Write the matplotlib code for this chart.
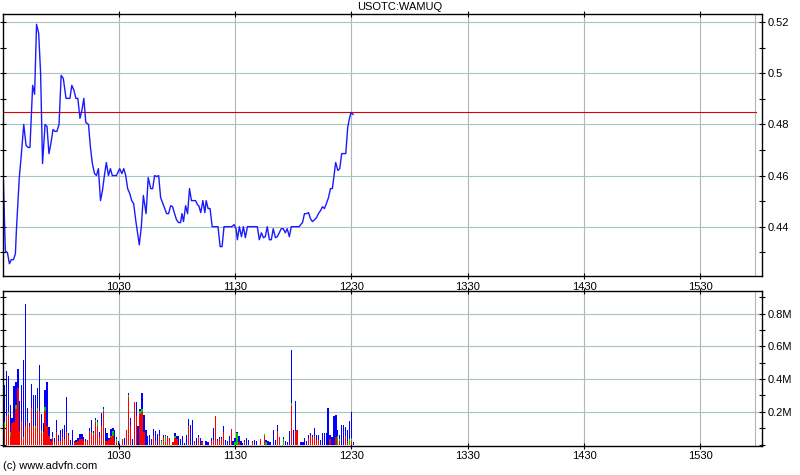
import numpy as np
import matplotlib
matplotlib.use('Agg')
import matplotlib.pyplot as plt
from matplotlib.ticker import MultipleLocator, FixedLocator, FuncFormatter

plt.rcParams['font.family'] = ['Liberation Sans', 'DejaVu Sans']

# price: minutes after 09:30, last trade
price_min = [0.2, 1.5, 2.6, 3.6, 4.6, 5.7, 6.7, 7.2, 8.7, 9.8,
             11.0, 12.2, 13.2, 14.2, 15.6, 16.6, 17.6, 18.7, 19.7, 20.7,
             22.0, 23.0, 24.0, 25.0, 26.1, 27.1, 28.1, 29.2, 30.3, 31.4,
             32.8, 34.8, 35.8, 36.9, 37.9, 38.9, 40.0, 41.0, 42.0, 43.0,
             44.4, 45.4, 46.4, 47.5, 48.5, 49.5, 50.6, 51.6, 52.6, 53.6,
             54.7, 55.7, 56.7, 58.8, 60.5, 61.6, 62.6, 63.6, 64.6, 65.7,
             66.7, 67.7, 68.8, 69.8, 70.6, 71.6, 72.7, 74.1, 75.2, 76.5,
             77.5, 78.5, 79.6, 80.6, 81.6, 82.6, 83.7, 84.7, 85.7, 86.8,
             87.8, 88.8, 89.8, 90.9, 91.9, 92.6, 93.4, 94.5, 95.5, 96.5,
             97.5, 99.6, 100.6, 101.3, 102.3, 103.4, 104.4, 105.1, 106.1, 107.1,
             108.2, 111.2, 112.3, 113.3, 114.3, 118.4, 119.5, 120.5, 121.2, 122.2,
             123.3, 124.3, 125.3, 126.4, 131.5, 132.5, 133.6, 134.6, 135.6, 136.6,
             137.7, 138.7, 139.7, 140.8, 141.8, 142.8, 143.8, 144.9, 145.9, 146.9,
             148.0, 149.0, 153.1, 153.8, 154.8, 155.8, 156.9, 157.9, 158.9, 159.9,
             161.0, 162.0, 163.0, 164.1, 165.1, 166.1, 167.1, 168.2, 169.2, 170.2,
             170.9, 171.9, 173.0, 174.0, 175.0, 177.1, 178.1, 179.1, 179.8, 180.9]
price = [0.4659, 0.4306, 0.4298, 0.4255, 0.4271, 0.4271, 0.4294, 0.4384, 0.4592, 0.4686,
         0.48, 0.4718, 0.471, 0.471, 0.4953, 0.4918, 0.5192, 0.5157, 0.5, 0.4647,
         0.48, 0.4792, 0.4686, 0.4725, 0.478, 0.4773, 0.4773, 0.48, 0.4992, 0.498,
         0.4902, 0.4902, 0.4953, 0.4933, 0.4902, 0.4902, 0.4824, 0.4855, 0.4902, 0.4808,
         0.48, 0.471, 0.4647, 0.4608, 0.46, 0.4627, 0.4502, 0.4541, 0.46, 0.4651,
         0.46, 0.4627, 0.46, 0.46, 0.4627, 0.4608, 0.4627, 0.46, 0.4549, 0.4529,
         0.4502, 0.449, 0.4423, 0.4372, 0.4329, 0.4396, 0.4522, 0.4451, 0.4592, 0.4549,
         0.4549, 0.46, 0.4596, 0.46, 0.4514, 0.4494, 0.4471, 0.4451, 0.4451, 0.4482,
         0.4478, 0.4451, 0.4427, 0.4416, 0.4416, 0.4451, 0.442, 0.4482, 0.4451, 0.4549,
         0.4502, 0.4502, 0.4486, 0.4482, 0.4455, 0.4502, 0.4455, 0.4502, 0.4471, 0.4471,
         0.44, 0.44, 0.4322, 0.4322, 0.44, 0.44, 0.4408, 0.4392, 0.4349, 0.44,
         0.4361, 0.44, 0.4357, 0.44, 0.44, 0.4349, 0.4376, 0.4357, 0.4361, 0.44,
         0.4349, 0.4349, 0.4392, 0.4357, 0.4361, 0.4376, 0.4392, 0.4392, 0.4376, 0.4392,
         0.4361, 0.44, 0.44, 0.4408, 0.4416, 0.4451, 0.4451, 0.4455, 0.4431, 0.442,
         0.4427, 0.4435, 0.4451, 0.4463, 0.4478, 0.4471, 0.449, 0.4514, 0.4549, 0.4549,
         0.4592, 0.4651, 0.462, 0.4627, 0.4686, 0.4686, 0.4788, 0.4827, 0.4847, 0.4839]
prev_close = 0.485

# volume per minute from 09:30, thousands of shares
vol_red = [101, 107, 176, 186, 53, 131, 135, 216, 343, 85,
           145, 34, 115, 135, 115, 226, 115, 99, 206, 206,
           71, 77, 206, 115, 55, 24, 38, 14, 75, 24,
           24, 44, 34, 75, 55, 0, 0, 18, 18, 24,
           34, 34, 24, 18, 28, 81, 75, 61, 135, 115,
           44, 115, 206, 24, 24, 30, 44, 55, 24, 18,
           0, 0, 34, 0, 89, 293, 115, 0, 261, 176,
           0, 186, 196, 75, 0, 0, 0, 0, 55, 24,
           0, 55, 0, 44, 18, 44, 40, 0, 18, 40,
           34, 0, 0, 0, 0, 0, 115, 0, 0, 24,
           0, 44, 0, 18, 0, 0, 0, 0, 24, 30,
           172, 24, 34, 34, 75, 0, 0, 0, 95, 0,
           0, 0, 18, 0, 0, 18, 0, 0, 0, 18,
           0, 0, 0, 34, 0, 55, 0, 0, 0, 0,
           0, 0, 85, 48, 0, 0, 0, 0, 0, 236,
           0, 85, 89, 0, 0, 0, 0, 0, 40, 55,
           48, 55, 30, 30, 0, 0, 0, 0, 0, 34,
           0, 0, 44, 0, 24, 0, 0, 55, 24, 0,
           24, 0]
vol_green = [85, 30, 0, 12, 24, 0, 0, 24, 0, 0,
             0, 10, 0, 0, 0, 0, 0, 16, 20, 0,
             14, 0, 22, 0, 0, 0, 6, 0, 0, 0,
             0, 0, 0, 0, 0, 0, 0, 0, 0, 0,
             0, 0, 0, 0, 0, 0, 0, 10, 14, 20,
             0, 0, 10, 0, 0, 0, 10, 30, 0, 16,
             0, 0, 0, 0, 0, 8, 0, 0, 0, 0,
             0, 20, 20, 0, 0, 0, 0, 0, 0, 0,
             0, 0, 24, 0, 32, 0, 0, 0, 0, 10,
             0, 0, 0, 0, 0, 0, 0, 0, 0, 0,
             0, 0, 0, 0, 0, 0, 0, 0, 0, 0,
             0, 0, 0, 0, 0, 0, 0, 0, 0, 0,
             14, 71, 0, 0, 0, 0, 0, 0, 0, 0,
             0, 0, 0, 0, 0, 10, 18, 0, 0, 0,
             0, 0, 0, 0, 0, 34, 0, 0, 0, 20,
             0, 0, 0, 0, 0, 0, 0, 0, 0, 0,
             0, 0, 0, 0, 0, 0, 0, 0, 0, 0,
             0, 0, 0, 55, 10, 0, 0, 0, 0, 34,
             14, 0]
vol_blue = [339, 224, 273, 220, 164, 30, 220, 141, 121, 182,
            216, 475, 743, 89, 16, 141, 188, 188, 117, 283,
            101, 55, 105, 267, 55, 10, 34, 26, 77, 34,
            65, 51, 85, 216, 16, 28, 89, 6, 10, 16,
            30, 30, 20, 16, 0, 20, 75, 14, 12, 14,
            30, 77, 16, 77, 46, 10, 40, 16, 65, 10,
            24, 0, 0, 40, 0, 16, 46, 34, 0, 85,
            115, 10, 97, 105, 89, 55, 59, 34, 40, 57,
            65, 34, 6, 14, 8, 6, 0, 0, 0, 20,
            16, 51, 34, 55, 10, 59, 40, 119, 149, 0,
            40, 14, 40, 6, 0, 24, 14, 0, 16, 71,
            4, 10, 14, 14, 40, 30, 24, 55, 2, 24,
            26, 8, 36, 24, 10, 12, 40, 30, 0, 6,
            28, 24, 0, 0, 0, 0, 10, 24, 18, 0,
            89, 28, 34, 0, 0, 14, 24, 18, 85, 323,
            91, 182, 0, 0, 18, 18, 40, 24, 20, 16,
            10, 46, 28, 30, 30, 71, 71, 71, 222, 26,
            48, 176, 135, 34, 26, 119, 119, 55, 65, 111,
            162, 18]

hour_ticks = [630, 690, 750, 810, 870, 930]
hour_labels = ['1030', '1130', '1230', '1330', '1430', '1530']

t_open = 570
price_t = t_open + np.array(price_min)
vol_t = t_open + np.arange(len(vol_red))
red = np.array(vol_red) * 1000.0
green = np.array(vol_green) * 1000.0
blue = np.array(vol_blue) * 1000.0

fig = plt.figure(figsize=(8, 4.75), dpi=100)
ax = fig.add_axes([0.00375, 0.41895, 0.94875, 0.55095])
axv = fig.add_axes([0.00375, 0.06168, 0.94875, 0.32568])

hgrid = '#a9c2c2'
vgrid = '#b4b4b4'

for a in (ax, axv):
    a.set_xlim(570.3, 961.8)
    a.xaxis.set_major_locator(FixedLocator(hour_ticks))
    a.set_xticklabels(hour_labels)
    for t in hour_ticks:
        a.axvline(t, color=vgrid, lw=0.8, zorder=0)
    a.axvline(958, color=vgrid, lw=0.8, zorder=0)
    a.yaxis.tick_right()
    a.tick_params(axis='both', which='both', direction='inout', length=4, width=0.8,
                  labelsize=8, top=True, bottom=True, left=True, right=True,
                  labelleft=False, labelright=True, pad=2)
    for s in a.spines.values():
        s.set_linewidth(1.0)

# price panel
ax.set_ylim(0.4207, 0.5231)
ax.yaxis.set_major_locator(FixedLocator([0.44, 0.46, 0.48, 0.50, 0.52]))
ax.yaxis.set_minor_locator(MultipleLocator(0.01))
ax.yaxis.set_major_formatter(FuncFormatter(lambda v, p: '%g' % round(v, 2)))
for v in [0.44, 0.46, 0.48, 0.50, 0.52]:
    ax.axhline(v, color=hgrid, lw=0.8, zorder=0)
ax.axhline(prev_close, xmin=0, xmax=0.992, color='#e00000', lw=0.8, zorder=1)
ax.plot(price_t, price, color='#1a1aff', lw=1.0, zorder=2)

# volume panel
axv.set_ylim(-7000, 938000)
axv.yaxis.set_major_locator(FixedLocator([200000, 400000, 600000, 800000]))
axv.yaxis.set_minor_locator(MultipleLocator(100000))
axv.yaxis.set_major_formatter(FuncFormatter(lambda v, p: '%gM' % round(v / 1e6, 1)))
for v in [200000, 400000, 600000, 800000]:
    axv.axhline(v, color=hgrid, lw=0.8, zorder=0)
w = 0.65
axv.bar(vol_t, red, width=w, color='#ff0000', zorder=2)
axv.bar(vol_t, green, width=w, bottom=red, color='#00cc00', zorder=2)
axv.bar(vol_t, blue, width=w, bottom=red + green, color='#0000ff', zorder=2)

fig.text(0.5, 0.985, 'USOTC:WAMUQ', ha='center', va='center', fontsize=8)
fig.text(0.004, 0.019, '(c) www.advfn.com', ha='left', va='center', fontsize=8)

fig.savefig('out.png', dpi=100)
